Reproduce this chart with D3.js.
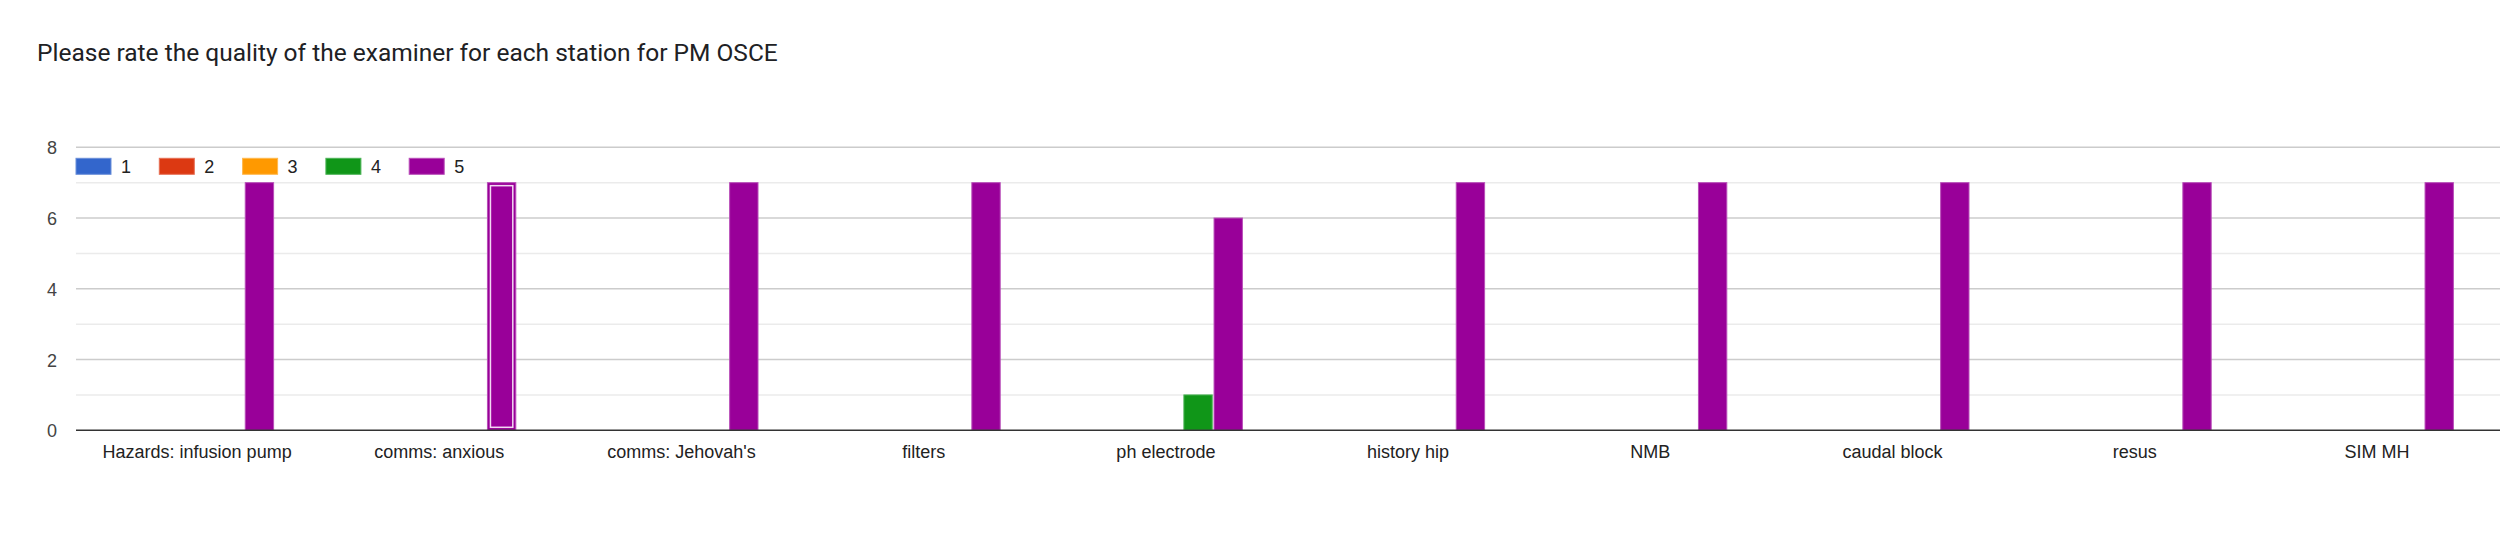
<!DOCTYPE html>
<html>
<head>
<meta charset="utf-8">
<script src="https://cdn.jsdelivr.net/npm/d3@7"></script>
<style>
  html, body { margin: 0; padding: 0; background: #fff; }
  svg { display: block; }
</style>
</head>
<body>
<svg id="chart" width="2500" height="542"></svg>
<script>
const title = "Please rate the quality of the examiner for each station for PM OSCE";
const categories = ["Hazards: infusion pump", "comms: anxious", "comms: Jehovah's", "filters",
  "ph electrode", "history hip", "NMB", "caudal block", "resus", "SIM MH"];
const ratings = ["1", "2", "3", "4", "5"];
const colors = ["#3366cc", "#dc3912", "#ff9900", "#109618", "#990099"];
const strokeColors = ["#6b8fd9", "#e67055", "#ffb84d", "#4db357", "#b84db8"];
const rating1 = [0, 0, 0, 0, 0, 0, 0, 0, 0, 0];
const rating2 = [0, 0, 0, 0, 0, 0, 0, 0, 0, 0];
const rating3 = [0, 0, 0, 0, 0, 0, 0, 0, 0, 0];
const rating4 = [0, 0, 0, 0, 1, 0, 0, 0, 0, 0];
const rating5 = [7, 7, 7, 7, 6, 7, 7, 7, 7, 7];
const yTicks = [0, 2, 4, 6, 8];
const highlightedCategory = "comms: anxious";

const series = [rating1, rating2, rating3, rating4, rating5];

const svg = d3.select("#chart");
const plotLeft = 76, plotRight = 2498, plotTop = 147.3, plotBottom = 430.3;

const x0 = d3.scaleBand().domain(categories).range([plotLeft, plotRight]).paddingInner(0).paddingOuter(0);
const groupW = 5 * 29.8;
const x1 = d3.scaleBand().domain(ratings).range([0, groupW]).paddingInner(0.06);
const y = d3.scaleLinear().domain([0, 8]).range([plotBottom, plotTop]);

// title
svg.append("text")
  .attr("x", 37).attr("y", 61)
  .attr("font-family", "Roboto, 'Open Sans', sans-serif")
  .attr("font-size", 24.5)
  .attr("fill", "#202124")
  .text(title);

// gridlines (minor + major)
const gridVals = d3.range(1, 9);
svg.append("g").selectAll("line").data(gridVals).join("line")
  .attr("x1", plotLeft).attr("x2", 2500)
  .attr("y1", d => y(d)).attr("y2", d => y(d))
  .attr("stroke", d => d % 2 === 0 ? "#cccccc" : "#ebebeb")
  .attr("stroke-width", 1.5);

// y axis labels
const yAxis = d3.axisLeft(y).tickValues(yTicks).tickSize(0).tickPadding(0);
const yg = svg.append("g").attr("transform", `translate(${57},0)`).call(yAxis);
yg.select(".domain").remove();
yg.selectAll("text")
  .attr("font-family", "Arial, 'Liberation Sans', sans-serif")
  .attr("font-size", 18)
  .attr("fill", "#444444")
  .attr("dy", "0.36em");

// bars
const flat = [];
categories.forEach((c, i) => {
  ratings.forEach((r, j) => {
    flat.push({ cat: c, rating: r, idx: j, value: series[j][i] });
  });
});
const barsG = svg.append("g");
const offset = (x0.bandwidth() - groupW) / 2 + 2;
barsG.selectAll("rect").data(flat.filter(d => d.value > 0)).join("rect")
  .attr("x", d => x0(d.cat) + offset + x1(d.rating))
  .attr("y", d => y(d.value))
  .attr("width", x1.bandwidth())
  .attr("height", d => y(0) - y(d.value))
  .attr("fill", d => colors[d.idx])
  .attr("stroke", d => strokeColors[d.idx])
  .attr("stroke-width", 1);

// highlighted bar inner outline
flat.filter(d => d.value > 0 && d.cat === highlightedCategory).forEach(d => {
  const bx = x0(d.cat) + offset + x1(d.rating);
  barsG.append("rect")
    .attr("x", bx + 3).attr("y", y(d.value) + 3)
    .attr("width", x1.bandwidth() - 6)
    .attr("height", y(0) - y(d.value) - 6)
    .attr("fill", "none")
    .attr("stroke", "#f2d9f2")
    .attr("stroke-width", 1.5);
});

// baseline
svg.append("line")
  .attr("x1", plotLeft).attr("x2", 2500)
  .attr("y1", y(0)).attr("y2", y(0))
  .attr("stroke", "#333333").attr("stroke-width", 1.5);

// x axis labels
const xAxis = d3.axisBottom(x0).tickSize(0).tickPadding(0);
const xg = svg.append("g").attr("transform", `translate(0,${y(0)})`).call(xAxis);
xg.select(".domain").remove();
xg.selectAll("text")
  .attr("font-family", "Arial, 'Liberation Sans', sans-serif")
  .attr("font-size", 18)
  .attr("fill", "#222222")
  .attr("dy", null)
  .attr("y", 27.6);

// legend
const legend = svg.append("g");
const lg = legend.selectAll("g").data(ratings).join("g")
  .attr("transform", (d, i) => `translate(${76 + i * 83.3},158.3)`);
lg.append("rect")
  .attr("width", 35).attr("height", 16)
  .attr("fill", (d, i) => colors[i])
  .attr("stroke", (d, i) => strokeColors[i]).attr("stroke-width", 1);
lg.append("text")
  .attr("x", 45).attr("y", 15)
  .attr("font-family", "Arial, 'Liberation Sans', sans-serif")
  .attr("font-size", 18)
  .attr("fill", "#222222")
  .text(d => d);
</script>
</body>
</html>
